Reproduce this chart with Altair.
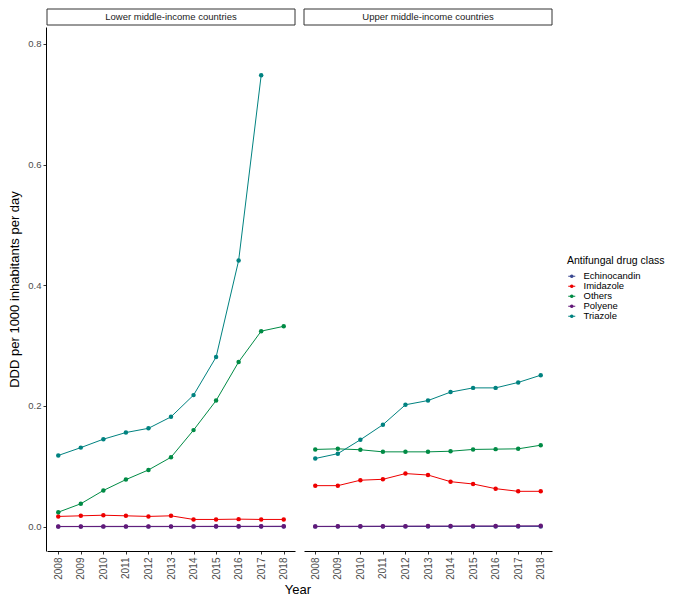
import altair as alt
import pandas as pd

years = list(range(2008, 2019))
classes = ["Echinocandin", "Imidazole", "Others", "Polyene", "Triazole"]
colors = ["#3B4992", "#EE0000", "#008B45", "#631879", "#008280"]
panels = ["Lower middle-income countries", "Upper middle-income countries"]

lower_echinocandin = [0.0001, 0.0001, 0.0001, 0.0001, 0.0001, 0.0001, 0.0002, 0.0002, 0.0002, 0.0002, 0.0002]
lower_imidazole = [0.017, 0.018, 0.019, 0.018, 0.017, 0.018, 0.012, 0.012, 0.0125, 0.012, 0.012]
lower_others = [0.024, 0.038, 0.060, 0.078, 0.094, 0.115, 0.160, 0.209, 0.273, 0.324, 0.332]
lower_polyene = [0.0004, 0.0004, 0.0005, 0.0005, 0.0005, 0.0005, 0.0005, 0.0006, 0.0006, 0.0006, 0.0007]
lower_triazole = [0.118, 0.131, 0.145, 0.156, 0.163, 0.182, 0.218, 0.281, 0.441, 0.748, None]

upper_echinocandin = [0.0002, 0.0002, 0.0002, 0.0003, 0.0003, 0.0003, 0.0003, 0.0004, 0.0004, 0.0004, 0.0004]
upper_imidazole = [0.068, 0.068, 0.077, 0.0785, 0.088, 0.0856, 0.0746, 0.0707, 0.063, 0.0586, 0.0586]
upper_others = [0.128, 0.129, 0.1275, 0.124, 0.124, 0.124, 0.125, 0.128, 0.1285, 0.129, 0.135]
upper_polyene = [0.0005, 0.0006, 0.0007, 0.0008, 0.0009, 0.0010, 0.0011, 0.0012, 0.0012, 0.0013, 0.0014]
upper_triazole = [0.113, 0.121, 0.144, 0.169, 0.202, 0.209, 0.223, 0.230, 0.230, 0.239, 0.251]

series = {
    panels[0]: [lower_echinocandin, lower_imidazole, lower_others, lower_polyene, lower_triazole],
    panels[1]: [upper_echinocandin, upper_imidazole, upper_others, upper_polyene, upper_triazole],
}

rows = []
for p in panels:
    for c, vals in zip(classes, series[p]):
        for y, v in zip(years, vals):
            if v is not None:
                rows.append({"panel": p, "cls": c, "Year": str(y), "value": v})
df = pd.DataFrame(rows)

W = 248
H = 524
FONT = "Liberation Sans"

x = alt.X("Year:O", title=None,
          scale=alt.Scale(paddingOuter=0.6, paddingInner=0),
          axis=alt.Axis(labelAngle=270, labelFontSize=10, labelColor="#4D4D4D",
                        tickColor="#333333", tickSize=3, domainColor="#000000",
                        labelPadding=3, labelBaseline="middle"))
y = alt.Y("value:Q", title="DDD per 1000 inhabitants per day",
          scale=alt.Scale(domain=[-0.0403, 0.828], nice=False, zero=False),
          axis=alt.Axis(values=[0.0, 0.2, 0.4, 0.6, 0.8], format=".1f", grid=False,
                        labelFontSize=9.5, labelColor="#4D4D4D", tickColor="#333333",
                        tickSize=3, domainColor="#000000", titleFontSize=13,
                        titleFontWeight="normal", titleColor="#000000", titlePadding=6))
color = alt.Color("cls:N", title="Antifungal drug class",
                  scale=alt.Scale(domain=classes, range=colors),
                  legend=alt.Legend(orient="none", legendX=520, legendY=229,
                                    titleFontSize=10.5, titleFontWeight="normal",
                                    titleColor="#000000", labelFontSize=9.5,
                                    labelColor="#000000", symbolType="M-1,0H1M-0.35,0a0.35,0.35 0 1,0 0.7,0a0.35,0.35 0 1,0 -0.7,0",
                                    symbolSize=49, symbolStrokeWidth=1.2, rowPadding=-3,
                                    titlePadding=5, labelOffset=7))

lines = alt.Chart().mark_line(strokeWidth=1).encode(x=x, y=y, color=color, detail="cls:N")
points = alt.Chart().mark_point(filled=True, size=20, opacity=1).encode(x=x, y=y, color=color)

strip_rect = alt.Chart().mark_rect(fill="white", stroke="#333333", strokeWidth=1).encode(
    x=alt.value(0), x2=alt.value(W), y=alt.value(-18), y2=alt.value(-2)
).transform_filter("datum.cls == 'Others' && datum.Year == '2008'")
strip_text = alt.Chart().mark_text(fontSize=9.5, color="#1A1A1A", font=FONT).encode(
    text="panel:N", x=alt.value(W / 2), y=alt.value(-10)
).transform_filter("datum.cls == 'Others' && datum.Year == '2008'")

chart = alt.layer(lines, points, strip_rect, strip_text, data=df).properties(
    width=W, height=H
).facet(
    column=alt.Column("panel:N", header=alt.Header(title=None, labels=False), sort=panels),
    spacing=7,
).properties(
    title=alt.TitleParams("Year", orient="bottom", anchor="middle", fontSize=13,
                          fontWeight="normal", color="#000000", offset=5, dx=-39)
).configure(font=FONT, padding=0).configure_view(stroke=None)

chart.save("out.html", embed_options={"renderer": "svg", "actions": False})
